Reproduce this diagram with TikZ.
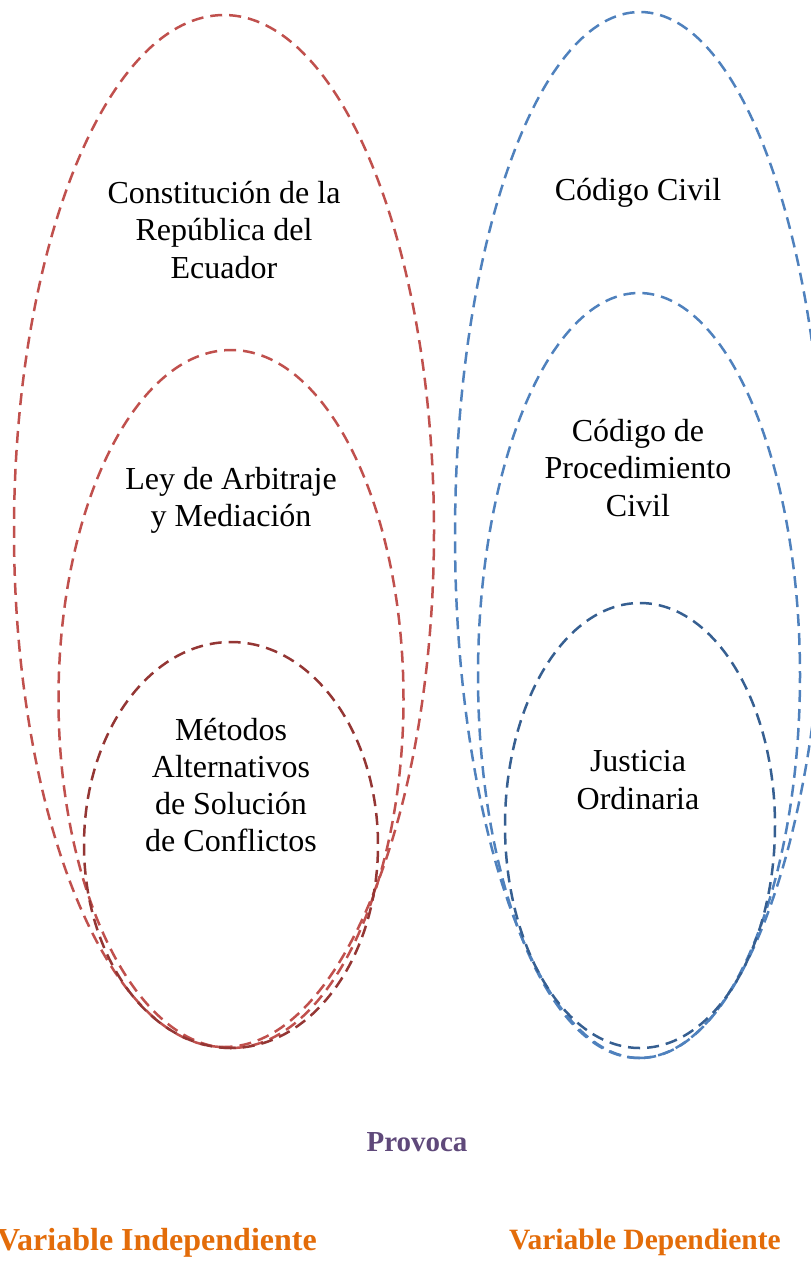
\documentclass[tikz,border=0pt]{standalone}
\usepackage{fontspec}
\setmainfont{Liberation Serif}
\definecolor{ored}{HTML}{C0504D}
\definecolor{dred}{HTML}{943634}
\definecolor{oblue}{HTML}{4F81BD}
\definecolor{dblue}{HTML}{365F91}
\definecolor{opurple}{HTML}{5F497A}
\definecolor{oorange}{HTML}{E36C09}
\begin{document}
\begin{tikzpicture}[x=1pt,y=-1pt,
  ring/.style={line width=2.5pt, dash pattern=on 12pt off 7pt},
  lbl/.style={align=center, inner sep=0pt, font=\fontsize{32}{37.3}\selectfont},
  foot/.style={inner sep=0pt, font=\fontsize{29.5}{34}\selectfont\bfseries, text=oorange}]
\useasboundingbox (0,0) rectangle (811,1262);
% red ellipses (each drawn from its bottom point)
\draw[ring, ored] (224,1047) arc[start angle=90, end angle=450, x radius=210, y radius=516];
\draw[ring, ored] (231,1048) arc[start angle=90, end angle=450, x radius=172.5, y radius=349];
\draw[ring, dred] (231,1048) arc[start angle=90, end angle=450, x radius=147, y radius=203];
% blue ellipses
\draw[ring, oblue] (640,1058) arc[start angle=90, end angle=450, x radius=185, y radius=523];
\draw[ring, oblue] (639,1058) arc[start angle=90, end angle=450, x radius=161, y radius=382.5];
\draw[ring, dblue] (640,1048) arc[start angle=90, end angle=450, x radius=135, y radius=222.5];
% labels
\node[lbl] (cre) at (224,230) {Constitución de la\\República del\\Ecuador};
\node[lbl] (lam) at (231,500) {Ley de Arbitraje\\y Mediación};
\node[lbl] (masc) at (231,785) {Métodos\\Alternativos\\de Solución\\de Conflictos};
\node[lbl] (cc) at (638,193) {Código Civil};
\node[lbl] (cpc) at (638,468) {Código de\\Procedimiento\\Civil};
\node[lbl] (jo) at (638,780) {Justicia\\Ordinaria};
\node[inner sep=0pt, font=\fontsize{29}{34}\selectfont\bfseries, text=opurple] (prov) at (417,1142) {Provoca};
\node[foot, anchor=east, font=\fontsize{32}{36}\selectfont\bfseries] (vi) at (317,1243) {Variable Independiente};
\node[foot, anchor=east] (vd) at (781,1242) {Variable Dependiente};
\end{tikzpicture}
\end{document}
